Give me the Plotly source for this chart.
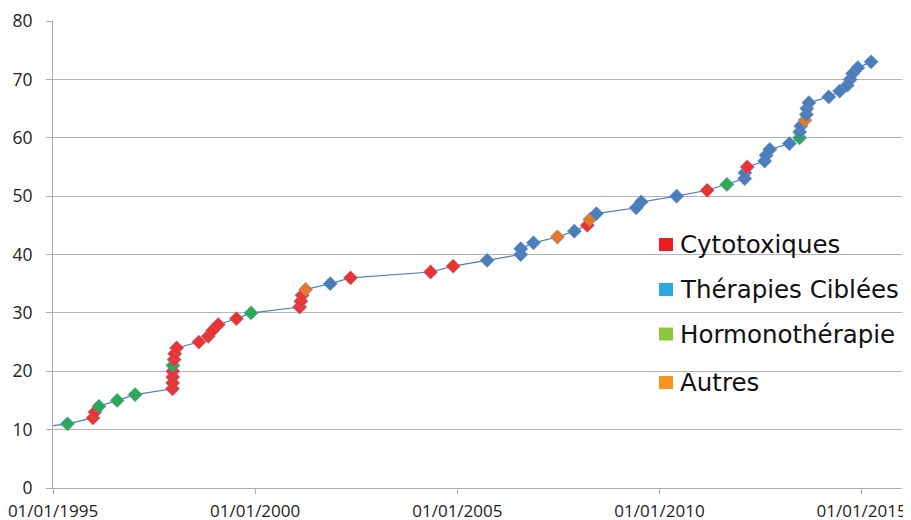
import plotly.graph_objects as go

# ---- data ----
dates = [
    "1994-04-01", "1995-05-12", "1995-12-28", "1996-01-15", "1996-02-20", "1996-08-03",
    "1997-01-12", "1997-12-16", "1997-12-17", "1997-12-18", "1997-12-19", "1997-12-20",
    "1997-12-30", "1998-01-05", "1998-01-22", "1998-08-11", "1998-11-03", "1998-12-13",
    "1999-02-02", "1999-07-16", "1999-11-25", "2001-02-06", "2001-02-17", "2001-02-28",
    "2001-04-01", "2001-11-10", "2002-05-12", "2004-05-04", "2004-11-24", "2005-09-27",
    "2006-07-27", "2006-07-28", "2006-11-20", "2007-06-24", "2007-11-24", "2008-03-20",
    "2008-04-12", "2008-06-10", "2009-06-05", "2009-07-19", "2010-06-05", "2011-03-08",
    "2011-09-02", "2012-02-10", "2012-02-12", "2012-03-04", "2012-08-08", "2012-08-22",
    "2012-09-24", "2013-03-20", "2013-06-20", "2013-06-21", "2013-07-01", "2013-08-07",
    "2013-08-20", "2013-08-25", "2013-09-12", "2014-03-10", "2014-06-17", "2014-08-25",
    "2014-09-20", "2014-10-12", "2014-11-28", "2015-03-28",
]
counts = list(range(10, 74))
categories = [
    "Cyto", "Hormono", "Cyto", "Cyto", "Hormono", "Hormono",
    "Hormono", "Cyto", "Cyto", "Cyto", "Cyto", "Hormono",
    "Cyto", "Cyto", "Cyto", "Cyto", "Cyto", "Cyto",
    "Cyto", "Cyto", "Hormono", "Cyto", "Cyto", "Cyto",
    "Autres", "Ciblee", "Cyto", "Cyto", "Cyto", "Ciblee",
    "Ciblee", "Ciblee", "Ciblee", "Autres", "Ciblee", "Cyto",
    "Autres", "Ciblee", "Ciblee", "Ciblee", "Ciblee", "Cyto",
    "Hormono", "Ciblee", "Ciblee", "Cyto", "Ciblee", "Ciblee",
    "Ciblee", "Ciblee", "Hormono", "Ciblee", "Ciblee", "Autres",
    "Ciblee", "Ciblee", "Ciblee", "Ciblee", "Ciblee", "Ciblee",
    "Ciblee", "Ciblee", "Ciblee", "Ciblee",
]
tick_dates = ["1995-01-01", "2000-01-01", "2005-01-01", "2010-01-01", "2015-01-01"]
tick_labels = ["01/01/1995", "01/01/2000", "01/01/2005", "01/01/2010", "01/01/2015"]
legend_labels = ["Cytotoxiques", "Thérapies Ciblées", "Hormonothérapie", "Autres"]

# ---- styles ----
marker_colors = {"Cyto": "#EE3131", "Ciblee": "#4A7EBB", "Hormono": "#2BA957", "Autres": "#E5792A"}
legend_colors = ["#ED1C24", "#29ABE2", "#8DC63F", "#F7931E"]

OFF = 8  # page body margin of the html page
W, H = 911 - OFF, 520 - OFF
ML, MR, MT, MB = 53 - OFF, 9, 21 - OFF, 32
PW, PH = W - ML - MR, H - MT - MB


def px_x(x):  # page pixel -> paper
    return (x - OFF - ML) / PW


def px_y(y):
    return (H - MB - (y - OFF)) / PH


fig = go.Figure()
fig.add_trace(go.Scatter(
    x=dates, y=counts, mode="lines+markers",
    line=dict(color="#4A7EBB", width=1.2),
    marker=dict(symbol="diamond", size=11,
                color=[marker_colors[c] for c in categories],
                line=dict(width=0.5, color="#7A8FC8")),
    showlegend=False, hoverinfo="skip",
))

fig.update_layout(
    width=W, height=H,
    margin=dict(l=ML, r=MR, t=MT, b=MB),
    paper_bgcolor="white", plot_bgcolor="white",
    showlegend=False,
    xaxis=dict(
        type="date", range=["1995-01-01", "2016-01-01"],
        tickvals=tick_dates, ticktext=tick_labels,
        showgrid=False, showline=True, linecolor="#ABABAB", linewidth=1,
        ticks="outside", ticklen=5, tickcolor="#ABABAB",
        tickfont=dict(family="Open Sans", size=17, color="#222222"),
        ticklabelstandoff=3, zeroline=False,
        automargin=False, ticklabeloverflow="allow",
    ),
    yaxis=dict(
        range=[0, 80], dtick=10, tick0=0,
        showgrid=True, gridcolor="#B4B4B4", gridwidth=1,
        showline=True, linecolor="#ABABAB", linewidth=1,
        ticks="outside", ticklen=6, tickcolor="#ABABAB",
        tickfont=dict(family="Open Sans", size=17.5, color="#222222"),
        ticklabelstandoff=10, zeroline=False,
        automargin=False, ticklabeloverflow="allow",
    ),
)

# legend drawn as squares + text (separate overlay legend in the original)
item_y = [244.5, 289.5, 334, 382.5]
for lbl, col, yc in zip(legend_labels, legend_colors, item_y):
    fig.add_shape(type="rect", xref="paper", yref="paper",
                  x0=px_x(659), x1=px_x(673), y0=px_y(yc + 6.5), y1=px_y(yc - 6.5),
                  fillcolor=col, line=dict(width=0))
    fig.add_annotation(text=lbl, xref="paper", yref="paper",
                       x=px_x(678), y=px_y(yc), xanchor="left", yanchor="middle",
                       showarrow=False,
                       font=dict(family="DejaVu Sans", size=24.5, color="#111111"))

fig.write_html("out.html")
